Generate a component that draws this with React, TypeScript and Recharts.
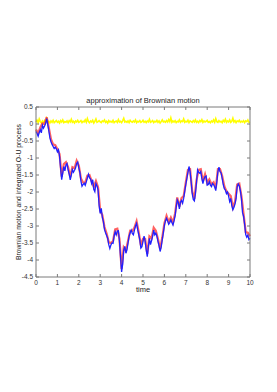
import React from 'react';
import { LineChart, Line, XAxis, YAxis, Label } from 'recharts';

// Brownian path, sampled every 0.05 in time
const brownian = [
  -0.22, -0.28, -0.36, -0.25, -0.17, -0.26, -0.04, -0.12, -0.06, 0.02,
  0.16, -0.02, -0.2, -0.41, -0.52, -0.6, -0.66, -0.72, -0.68, -0.73,
  -0.82, -0.76, -0.95, -1.3, -1.64, -1.44, -1.25, -1.38, -1.2, -1.16,
  -1.34, -1.47, -1.64, -1.5, -1.34, -1.42, -1.36, -1.29, -1.16, -1.12,
  -1.29, -1.42, -1.68, -1.83, -1.78, -1.74, -1.8, -1.7, -1.59, -1.48,
  -1.58, -1.62, -1.75, -1.64, -1.92, -1.99, -1.75, -1.82, -1.94, -2.4,
  -2.63, -2.48, -2.75, -2.87, -3.1, -3.2, -3.28, -3.36, -3.55, -3.66,
  -3.56, -3.5, -3.51, -3.3, -3.17, -3.26, -3.15, -3.14, -3.45, -3.9,
  -4.35, -4.12, -3.7, -3.6, -3.8, -3.7, -3.5, -3.3, -3.2, -3.12,
  -3.22, -3.26, -3.12, -3.0, -2.92, -3.1, -3.25, -3.4, -3.65, -3.61,
  -3.45, -3.3, -3.45, -3.7, -3.9, -3.61, -3.36, -3.55, -3.43, -3.3,
  -3.12, -3.26, -3.21, -3.3, -3.45, -3.58, -3.75, -3.62, -3.4, -3.2,
  -2.98, -2.85, -2.77, -2.85, -2.95, -2.9, -2.82, -2.9, -2.97, -2.85,
  -2.7, -2.45, -2.23, -2.3, -2.5, -2.3, -2.25, -2.33, -2.19, -1.98,
  -1.78, -1.6, -1.42, -1.25, -1.4, -1.7, -2.05, -2.22, -2.26, -2.04,
  -1.72, -1.35, -1.42, -1.45, -1.4, -1.6, -1.75, -1.62, -1.55, -1.53,
  -1.8, -1.78, -1.7, -1.8, -1.84, -1.75, -1.78, -1.85, -1.96, -1.7,
  -1.4, -1.27, -1.4, -1.44, -1.6, -1.78, -1.9, -1.94, -2.05, -2.0,
  -2.12, -2.28, -2.19, -2.4, -2.52, -2.45, -2.35, -2.19, -1.85, -1.76,
  -1.82, -1.96, -2.19, -2.6, -2.72, -2.95, -3.25, -3.33, -3.27, -3.4,
  -3.36,
];

// integrated O-U process, sampled every 0.1
const integratedOU = [
  -0.16, -0.28, -0.1, 0.02, 0.0, 0.2, -0.12, -0.45, -0.6, -0.62,
  -0.74, -0.88, -1.55, -1.18, -1.12, -1.27, -1.56, -1.27, -1.3, -1.08,
  -1.22, -1.6, -1.72, -1.72, -1.52, -1.5, -1.68, -1.85, -1.68, -1.86,
  -2.55, -2.68, -3.03, -3.22, -3.48, -3.5, -3.44, -3.1, -3.08, -3.38,
  -4.26, -3.63, -3.72, -3.44, -3.14, -3.15, -3.05, -2.86, -3.18, -3.57,
  -3.38, -3.38, -3.82, -3.3, -3.36, -3.05, -3.14, -3.38, -3.68, -3.34,
  -2.92, -2.7, -2.88, -2.75, -2.9, -2.63, -2.16, -2.43, -2.18, -2.12,
  -1.72, -1.35, -1.33, -1.98, -2.2, -1.65, -1.35, -1.33, -1.68, -1.48,
  -1.73, -1.63, -1.77, -1.71, -1.89, -1.33, -1.33, -1.53, -1.83, -1.98,
  -2.05, -2.12, -2.45, -2.28, -1.78, -1.75, -2.12, -2.65, -3.18, -3.2,
  -3.3,
];

// difference between the two, sampled every 0.05
const difference = [
  0.06, 0.11, 0.04, 0.15, 0.07, 0.03, 0.09, 0.05, 0.1, 0.04,
  0.16, 0.06, 0.08, 0.03, 0.09, 0.05, 0.11, 0.04, 0.07, 0.1,
  0.05, 0.08, 0.03, 0.1, 0.06, 0.12, 0.04, 0.07, 0.05, 0.09,
  0.04, 0.1, 0.06, 0.14, 0.05, 0.08, 0.03, 0.09, 0.06, 0.11,
  0.05, 0.07, 0.1, 0.04, 0.08, 0.06, 0.12, 0.05, 0.16, 0.07,
  0.04, 0.09, 0.06, 0.11, 0.03, 0.08, 0.15, 0.05, 0.07, 0.1,
  0.06, 0.04, 0.09, 0.07, 0.12, 0.05, 0.08, 0.03, 0.1, 0.06,
  0.08, 0.05, 0.11, 0.04, 0.07, 0.09, 0.05, 0.13, 0.06, 0.08,
  0.04, 0.1, 0.17, 0.06, 0.08, 0.05, 0.09, 0.04, 0.11, 0.07,
  0.05, 0.09, 0.06, 0.12, 0.04, 0.08, 0.06, 0.1, 0.05, 0.07,
  0.11, 0.05, 0.08, 0.04, 0.09, 0.06, 0.14, 0.05, 0.07, 0.1,
  0.04, 0.08, 0.06, 0.11, 0.05, 0.09, 0.03, 0.07, 0.12, 0.06,
  0.08, 0.05, 0.1, 0.06, 0.13, 0.07, 0.18, 0.05, 0.09, 0.06,
  0.1, 0.04, 0.08, 0.06, 0.12, 0.05, 0.09, 0.07, 0.15, 0.05,
  0.08, 0.06, 0.11, 0.04, 0.09, 0.07, 0.05, 0.1, 0.06, 0.12,
  0.05, 0.08, 0.04, 0.1, 0.07, 0.13, 0.05, 0.09, 0.06, 0.08,
  0.11, 0.05, 0.07, 0.04, 0.09, 0.06, 0.12, 0.05, 0.16, 0.07,
  0.05, 0.1, 0.06, 0.08, 0.04, 0.11, 0.07, 0.14, 0.05, 0.09,
  0.06, 0.12, 0.05, 0.08, 0.17, 0.06, 0.1, 0.04, 0.09, 0.07,
  0.11, 0.05, 0.08, 0.06, 0.1, 0.04, 0.09, 0.07, 0.12, 0.05,
  0.06,
];

const xTicks = [0, 1, 2, 3, 4, 5, 6, 7, 8, 9, 10];
const yTicks = [0.5, 0, -0.5, -1, -1.5, -2, -2.5, -3, -3.5, -4, -4.5];

const toSeries = (vals: number[], dt: number) => vals.map((v, i) => ({ t: +(i * dt).toFixed(2), v }));

const FONT = '"Liberation Sans", Arial, sans-serif';
const AXIS = '#7a7a7a';
const tickStyle = { fontSize: 6.5, fill: '#333', fontFamily: FONT };
const labelStyle = { fontSize: 7.5, fill: '#222', fontFamily: FONT };

export default function App() {
  const blueData = toSeries(brownian, 0.05);
  const redData = toSeries(integratedOU, 0.1);
  const yellowData = toSeries(difference, 0.05);

  return (
    <div style={{ position: 'absolute', left: 0, top: 0, width: 277, height: 392, background: '#fff' }}>
      <LineChart width={277} height={392} margin={{ top: 106, right: 26, bottom: 100, left: 0 }}>
        <XAxis
          xAxisId="b"
          type="number"
          dataKey="t"
          domain={[0, 10]}
          ticks={xTicks}
          interval={0}
          height={15}
          tickSize={-3}
          tickMargin={6}
          tick={tickStyle}
          axisLine={{ stroke: AXIS }}
          tickLine={{ stroke: AXIS }}
        >
          <Label
            content={({ viewBox }: any) => (
              <text x={viewBox.x + viewBox.width / 2} y={viewBox.y + 15} textAnchor="middle" style={labelStyle}>
                time
              </text>
            )}
          />
        </XAxis>
        <XAxis
          xAxisId="top"
          orientation="top"
          type="number"
          dataKey="t"
          domain={[0, 10]}
          ticks={xTicks}
          interval={0}
          height={1}
          tickSize={-3}
          tickFormatter={() => ''}
          axisLine={{ stroke: AXIS }}
          tickLine={{ stroke: AXIS }}
        >
          <Label value="approximation of Brownian motion" position="top" offset={3} fill="#222" style={labelStyle} />
        </XAxis>
        <YAxis
          yAxisId="l"
          type="number"
          domain={[-4.5, 0.5]}
          ticks={yTicks}
          interval={0}
          width={36}
          tickSize={-3}
          tickMargin={6}
          tick={tickStyle}
          axisLine={{ stroke: AXIS }}
          tickLine={{ stroke: AXIS }}
        >
          <Label
            content={({ viewBox }: any) => {
              const cx = viewBox.x + 18;
              const cy = viewBox.y + viewBox.height / 2;
              return (
                <text
                  x={cx}
                  y={cy}
                  transform={`rotate(-90 ${cx} ${cy})`}
                  textAnchor="middle"
                  dominantBaseline="central"
                  style={{ ...labelStyle, fontSize: 6.8 }}
                >
                  Brownian motion and integrated O-U process
                </text>
              );
            }}
          />
        </YAxis>
        <YAxis
          yAxisId="r"
          orientation="right"
          type="number"
          domain={[-4.5, 0.5]}
          ticks={yTicks}
          interval={0}
          width={1}
          tickSize={-3}
          tickFormatter={() => ''}
          axisLine={{ stroke: AXIS }}
          tickLine={{ stroke: AXIS }}
        />
        {/* invisible series so the top/right axes of the box get drawn */}
        <Line
          xAxisId="top"
          yAxisId="r"
          data={yellowData}
          dataKey="v"
          stroke="none"
          dot={false}
          legendType="none"
          isAnimationActive={false}
        />
        <Line
          xAxisId="b"
          yAxisId="l"
          data={yellowData}
          dataKey="v"
          type="linear"
          stroke="#ffff00"
          strokeWidth={1.6}
          dot={false}
          isAnimationActive={false}
        />
        <Line
          xAxisId="b"
          yAxisId="l"
          data={redData}
          dataKey="v"
          type="linear"
          stroke="#ff2020"
          strokeOpacity={0.7}
          strokeWidth={2.2}
          dot={false}
          isAnimationActive={false}
        />
        <Line
          xAxisId="b"
          yAxisId="l"
          data={blueData}
          dataKey="v"
          type="linear"
          stroke="#2020ff"
          strokeWidth={1.3}
          dot={false}
          isAnimationActive={false}
        />
      </LineChart>
    </div>
  );
}
